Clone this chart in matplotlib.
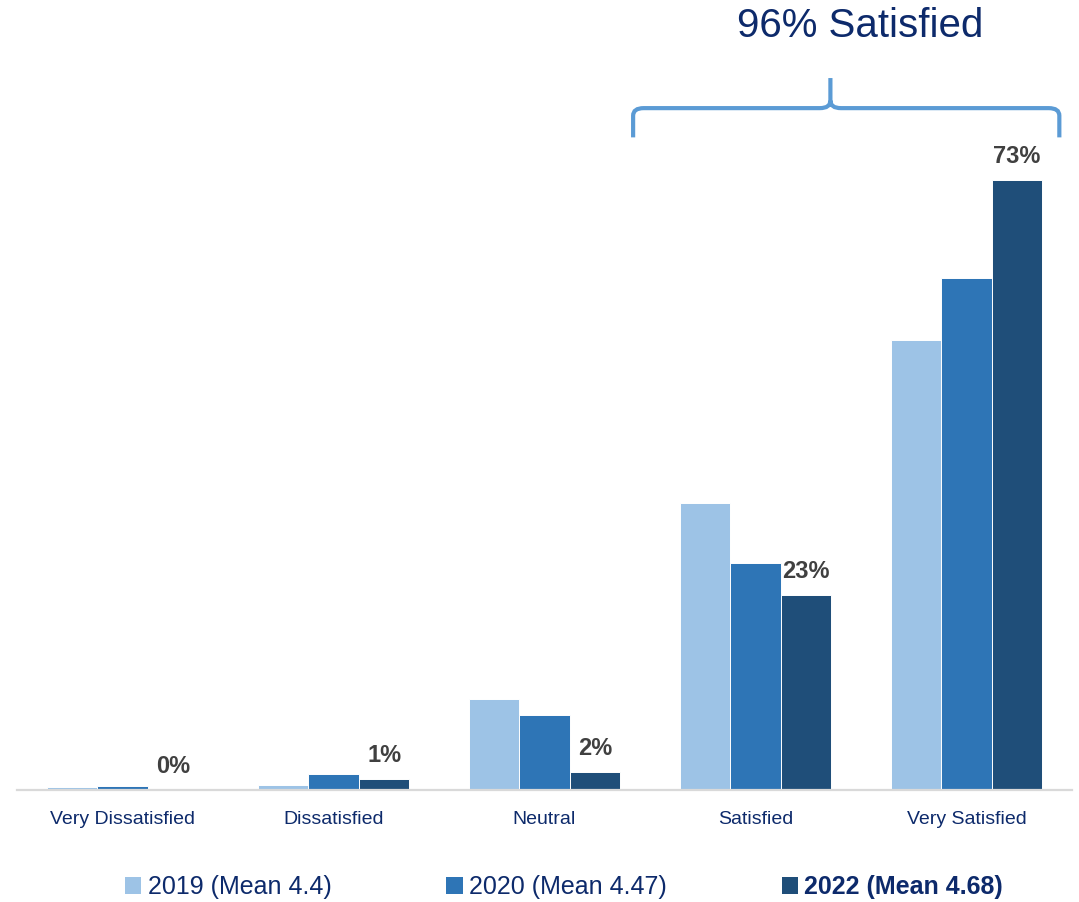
import numpy as np
import matplotlib
matplotlib.use("Agg")
import matplotlib.pyplot as plt
from matplotlib.patches import Patch, PathPatch
from matplotlib.path import Path
from matplotlib import font_manager

categories = ["Very Dissatisfied", "Dissatisfied", "Neutral", "Satisfied", "Very Satisfied"]
years = ["2019 (Mean 4.4)", "2020 (Mean 4.47)", "2022 (Mean 4.68)"]
v2019 = [0.3, 0.6, 10.9, 34.3, 53.8]
v2020 = [0.45, 1.9, 9.0, 27.2, 61.3]
v2022 = [0.0, 1.3, 2.2, 23.3, 73.0]
labels2022 = ["0%", "1%", "2%", "23%", "73%"]
colors = ["#9DC3E6", "#2E75B6", "#1F4E79"]

navy = "#0D2A6B"
names = {f.name for f in font_manager.fontManager.ttflist}
narrow = "Liberation Sans Narrow" if "Liberation Sans Narrow" in names else "Liberation Sans"

fig = plt.figure(figsize=(10.79, 9.02), dpi=100)
ax = fig.add_axes([17 / 1079, 112 / 902, 1055 / 1079, 668.5 / 902])

x = np.arange(len(categories))
w = 0.24
series = [v2019, v2020, v2022]
for i, vals in enumerate(series):
    ax.bar(x + (i - 1) * w, vals, w, color=colors[i], edgecolor="white", linewidth=0.7, zorder=2)

for xi, v, lab in zip(x, v2022, labels2022):
    ax.text(xi + w, v + 2.8, lab, ha="center", va="center", fontsize=17,
            fontweight="bold", color="#404040", family=[narrow, "DejaVu Sans"])

ax.set_xlim(-0.5, len(categories) - 0.5)
ax.set_ylim(0, 80)
ax.set_yticks([])
ax.set_xticks(x)
ax.set_xticklabels(categories, fontsize=14, color=navy, family=["Liberation Sans", "DejaVu Sans"])
ax.tick_params(axis="x", length=0, pad=15)
for s in ["top", "right", "left"]:
    ax.spines[s].set_visible(False)
ax.spines["bottom"].set_color("#D9D9D9")
ax.spines["bottom"].set_linewidth(1.6)

# brace over the satisfied categories
xl, xr, xc = 2.42, 4.44, 3.355
yb, yh, yt = 78.1, 81.6, 85.2
r = 0.05
verts = [(xl, yb), (xl, yh - 0.9), (xl, yh), (xl + r, yh),
         (xc - r, yh), (xc, yh), (xc, yh + 0.9), (xc, yt),
         (xc, yh + 0.9), (xc, yh), (xc + r, yh),
         (xr - r, yh), (xr, yh), (xr, yh - 0.9), (xr, yb)]
codes = [Path.MOVETO, Path.LINETO, Path.CURVE3, Path.CURVE3,
         Path.LINETO, Path.CURVE3, Path.CURVE3, Path.LINETO,
         Path.MOVETO, Path.CURVE3, Path.CURVE3,
         Path.LINETO, Path.CURVE3, Path.CURVE3, Path.LINETO]
ax.add_patch(PathPatch(Path(verts, codes), facecolor="none", edgecolor="#5B9BD5",
                       linewidth=3, clip_on=False, capstyle="butt"))

fig.text(860 / 1079, 1 - 26 / 902, "96% Satisfied", ha="center", va="center",
         fontsize=29, color=navy, family=["Liberation Sans", "DejaVu Sans"])

handles = [Patch(facecolor=c) for c in colors]
leg = fig.legend(handles, years, loc="center", bbox_to_anchor=(564 / 1079, 1 - 887 / 902),
                 ncol=3, frameon=False, handlelength=0.65, handleheight=0.65,
                 handletextpad=0.25, columnspacing=4.6,
                 prop={"family": [narrow, "DejaVu Sans"], "size": 18})
for t in leg.get_texts():
    t.set_color(navy)
leg.get_texts()[2].set_fontweight("bold")

fig.savefig("out.png", dpi=100)
